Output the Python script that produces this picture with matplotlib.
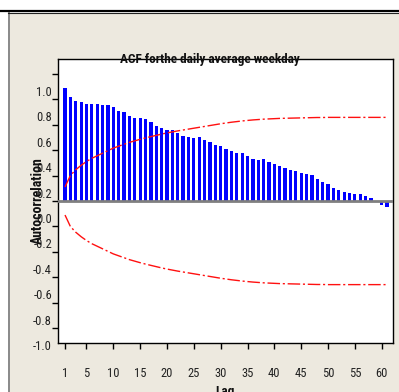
import numpy as np
import matplotlib
matplotlib.use("Agg")
import matplotlib.pyplot as plt
import matplotlib.transforms as mtransforms
from matplotlib.patches import Rectangle
from matplotlib.lines import Line2D

# narrow fonts, closest to the original's Arial Narrow look
plt.rcParams['font.family'] = ['Roboto Condensed', 'Archivo Narrow', 'DejaVu Sans']
bold_font = ['Roboto Condensed', 'Fira Sans Condensed', 'DejaVu Sans']

# ACF values, lags 1..61
lags = np.arange(1, 62)
acf = [0.886, 0.818, 0.784, 0.776, 0.761, 0.761, 0.761, 0.755, 0.753, 0.737,
       0.706, 0.698, 0.669, 0.653, 0.653, 0.645, 0.622, 0.591, 0.575, 0.559,
       0.557, 0.531, 0.508, 0.499, 0.497, 0.506, 0.476, 0.466, 0.437, 0.428,
       0.410, 0.395, 0.379, 0.379, 0.355, 0.332, 0.324, 0.332, 0.303, 0.293,
       0.272, 0.261, 0.240, 0.233, 0.217, 0.209, 0.201, 0.175, 0.151, 0.131,
       0.100, 0.084, 0.068, 0.063, 0.052, 0.052, 0.042, 0.020, -0.010, -0.030,
       -0.050]

# upper significance limit (lower one is its mirror)
upper = [0.110, 0.200, 0.245, 0.280, 0.310, 0.335, 0.355, 0.375, 0.395, 0.415,
         0.430, 0.445, 0.460, 0.472, 0.484, 0.495, 0.505, 0.515, 0.525, 0.534,
         0.542, 0.550, 0.557, 0.564, 0.571, 0.578, 0.585, 0.592, 0.599, 0.606,
         0.612, 0.618, 0.623, 0.628, 0.632, 0.636, 0.639, 0.642, 0.644, 0.646,
         0.648, 0.649, 0.650, 0.651, 0.652, 0.653, 0.654, 0.655, 0.655, 0.656,
         0.656, 0.656, 0.656, 0.656, 0.656, 0.656, 0.656, 0.656, 0.656, 0.656,
         0.656]
lower = [-u for u in upper]

xticks = [1, 5, 10, 15, 20, 25, 30, 35, 40, 45, 50, 55, 60]
yticks = [-1.0, -0.8, -0.6, -0.4, -0.2, 0.0, 0.2, 0.4, 0.6, 0.8, 1.0]

W, H = 399, 392
fig = plt.figure(figsize=(W / 100, H / 100), dpi=100)
fig.patch.set_facecolor('white')

# beige window panel + borders
fig.add_artist(Rectangle((8 / W, 0), 1 - 8 / W, 1 - 13 / H, transform=fig.transFigure,
                         facecolor='#ede9df', edgecolor='none', zorder=0))
fig.add_artist(Line2D([8.5 / W, 8.5 / W], [0, 1 - 13 / H], transform=fig.transFigure,
                      color='#8a8a8a', lw=1.4))
fig.add_artist(Line2D([0, 1], [1 - 10.8 / H, 1 - 10.8 / H], transform=fig.transFigure,
                      color='black', lw=1.6))
fig.add_artist(Line2D([8 / W, 1], [1 - 13 / H, 1 - 13 / H], transform=fig.transFigure,
                      color='#222222', lw=0.8))

ax = fig.add_axes([58.3 / W, 1 - 343 / H, (393 - 58.3) / W, (343 - 59) / H])
ax.set_facecolor('white')

ax.bar(lags, acf, width=0.6, color='#0000ff', zorder=2)
ax.axhline(0, color='#7f7f7f', lw=2, zorder=3)
ax.plot(lags, upper, color='#ff1010', lw=1, dashes=(9, 2, 1.5, 2), zorder=4)
ax.plot(lags, lower, color='#ff1010', lw=1, dashes=(9, 2, 1.5, 2), zorder=4)

ax.set_xlim(-0.25, 62.1)
ax.set_ylim(-1.114, 1.114)

for s in ax.spines.values():
    s.set_color('black')
    s.set_linewidth(1)

ax.set_xticks(xticks)
ax.set_xticklabels([str(t) for t in xticks])
ax.set_yticks(yticks)
ax.set_yticklabels(['%.1f' % t for t in yticks])
ax.tick_params(axis='x', direction='out', length=4, width=1, pad=13,
               labelsize=9, labelcolor='#222222')
ax.tick_params(axis='y', direction='out', length=4, width=1, pad=0.5,
               labelsize=9, labelcolor='#222222')

# y labels sit below their tick marks in the original
offset = mtransforms.ScaledTranslation(0, -0.17, fig.dpi_scale_trans)
for lab in ax.get_yticklabels():
    lab.set_transform(lab.get_transform() + offset)

ax.text(0.453, 1.0, 'ACF forthe daily average weekday', transform=ax.transAxes,
        ha='center', va='center', fontsize=9.5, fontweight='bold', color='#111111',
        family=bold_font)
fig.text(38 / W, 1 - 201 / H, 'Autocorrelation', rotation=90, ha='center', va='center',
         fontsize=10, fontweight='bold', color='#111111', family=bold_font)
fig.text(225 / W, 1 - 385 / H, 'Lag', ha='center', va='top',
         fontsize=9.5, fontweight='bold', color='#111111', family=bold_font)

fig.savefig('out.png', dpi=100, facecolor=fig.get_facecolor())
